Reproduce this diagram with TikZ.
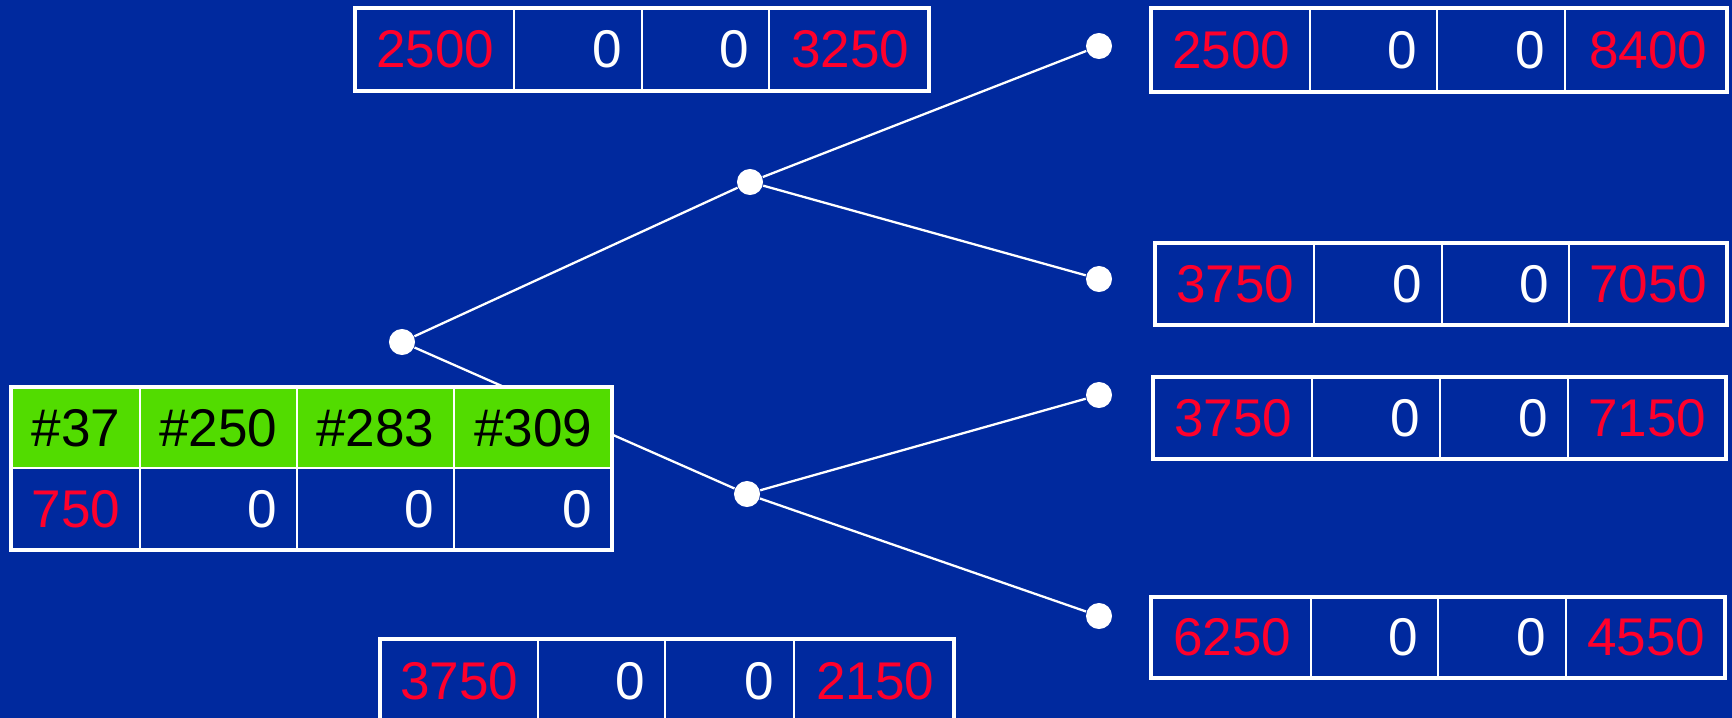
\documentclass[tikz,border=0pt]{standalone}
\usepackage{fontspec}
\setmainfont{Liberation Sans}
\usetikzlibrary{shapes.geometric}

\definecolor{slideblue}{RGB}{0,41,158}
\definecolor{hitred}{RGB}{255,0,43}
\definecolor{headgreen}{RGB}{82,220,0}

\tikzset{
  tbl/.style={draw=white, line width=1.4pt, fill=slideblue},
  divider/.style={draw=white, line width=0.6pt},
  num/.style={anchor=east, inner sep=0pt, font=\fontsize{15.1}{18}\selectfont},
  redval/.style={num, text=hitred},
  zeroval/.style={num, text=white},
  tagval/.style={num, text=black},
  knot/.style={circle, fill=white, minimum size=0.26cm, inner sep=0pt},
  link/.style={draw=white, line width=0.65pt}
}

\begin{document}
\begin{tikzpicture}[x=0.01cm, y=-0.01cm]
      \path[use as bounding box] (0,0) rectangle (1732,718);
      \clip (0,0) rectangle (1732,718);
      \fill[slideblue] (0,0) rectangle (1732,718);

      % tree
      \node[knot] (root) at (402,342) {};
      \node[knot] (hi) at (750,182) {};
      \node[knot] (lo) at (747,494) {};
      \node[knot] (hihi) at (1099,46) {};
      \node[knot] (hilo) at (1099,279) {};
      \node[knot] (lohi) at (1099,395) {};
      \node[knot] (lolo) at (1099,616) {};
      \draw[link] (root) -- (hi);
      \draw[link] (root) -- (lo);
      \draw[link] (hi) -- (hihi);
      \draw[link] (hi) -- (hilo);
      \draw[link] (lo) -- (lohi);
      \draw[link] (lo) -- (lolo);

      % start table
      \draw[tbl] (11,387) rectangle (612,550);
      \fill[headgreen] (13,389) rectangle (610,468);
      \draw[divider] (140,387) -- (140,550) (297,387) -- (297,550) (454,387) -- (454,550) (11,468) -- (612,468);
      \node[tagval] (h1) at (121,428) {\#37};
      \node[tagval] (h2) at (278,428) {\#250};
      \node[tagval] (h3) at (435,428) {\#283};
      \node[tagval] (h4) at (593,428) {\#309};
      \node[redval] (s1) at (121,509) {750};
      \node[zeroval] (s2) at (278,509) {0};
      \node[zeroval] (s3) at (435,509) {0};
      \node[zeroval] (s4) at (593,509) {0};

      % top middle
      \draw[tbl] (355,8) rectangle (929,91);
      \draw[divider] (514,8) -- (514,91) (642,8) -- (642,91) (769,8) -- (769,91);
      \node[redval] (a1) at (495,49) {2500};
      \node[zeroval] (a2) at (623,49) {0};
      \node[zeroval] (a3) at (750,49) {0};
      \node[redval] (a4) at (910,49) {3250};

      % bottom middle
      \draw[tbl] (380,639) rectangle (954,724);
      \draw[divider] (538,639) -- (538,724) (665,639) -- (665,724) (794,639) -- (794,724);
      \node[redval] (b1) at (519,681) {3750};
      \node[zeroval] (b2) at (646,681) {0};
      \node[zeroval] (b3) at (775,681) {0};
      \node[redval] (b4) at (935,681) {2150};

      % right column
      \draw[tbl] (1151,8) rectangle (1727,92);
      \draw[divider] (1310,8) -- (1310,92) (1437,8) -- (1437,92) (1565,8) -- (1565,92);
      \node[redval] (c1) at (1291,50) {2500};
      \node[zeroval] (c2) at (1418,50) {0};
      \node[zeroval] (c3) at (1546,50) {0};
      \node[redval] (c4) at (1708,50) {8400};

      \draw[tbl] (1155,243) rectangle (1727,325);
      \draw[divider] (1314,243) -- (1314,325) (1442,243) -- (1442,325) (1569,243) -- (1569,325);
      \node[redval] (d1) at (1295,284) {3750};
      \node[zeroval] (d2) at (1423,284) {0};
      \node[zeroval] (d3) at (1550,284) {0};
      \node[redval] (d4) at (1708,284) {7050};

      \draw[tbl] (1153,377) rectangle (1726,459);
      \draw[divider] (1312,377) -- (1312,459) (1440,377) -- (1440,459) (1568,377) -- (1568,459);
      \node[redval] (e1) at (1293,418) {3750};
      \node[zeroval] (e2) at (1421,418) {0};
      \node[zeroval] (e3) at (1549,418) {0};
      \node[redval] (e4) at (1707,418) {7150};

      \draw[tbl] (1151,597) rectangle (1725,678);
      \draw[divider] (1311,597) -- (1311,678) (1438,597) -- (1438,678) (1566,597) -- (1566,678);
      \node[redval] (f1) at (1292,637) {6250};
      \node[zeroval] (f2) at (1419,637) {0};
      \node[zeroval] (f3) at (1547,637) {0};
      \node[redval] (f4) at (1706,637) {4550};
\end{tikzpicture}
\end{document}
